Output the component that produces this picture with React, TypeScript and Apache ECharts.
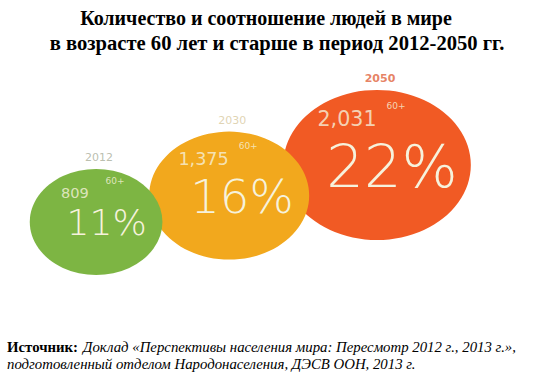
import React, { useEffect, useRef } from "react";
import * as echarts from "echarts";

const years = [2012, 2030, 2050];
const peopleMillions = [809, 1375, 2031];
const sharePercent = [11, 16, 22];
const ageGroup = "60+";
const numberLabels = ["809", "1,375", "2,031"];

const titleLines = [
  "Количество и соотношение людей в мире",
  "в возрасте 60 лет и старше в период 2012-2050 гг.",
];
const sourceBold = "Источник:";
const sourceLine1 = "Доклад «Перспективы населения мира: Пересмотр 2012 г., 2013 г.»,";
const sourceLine2 = "подготовленный отделом Народонаселения, ДЭСВ ООН, 2013 г.";

const bubbleColors = ["#7db543", "#f2a81d", "#f15a24"];
const yearColors = ["#a9ae9a", "#d8c9a0", "#e0623c"];
const textColor = "#f6f2dc";

const bw = (p: number) => 40 * Math.sqrt(p);
const bh = (p: number) => 32 * Math.sqrt(p);
const pctFont = (p: number) => 2.1 * p + 13;
const numFont = (p: number) => 0.11 * bw(p);

export default function App() {
  const ref = useRef<HTMLDivElement>(null);
  useEffect(() => {
    document.body.style.margin = "0";
    const chart = echarts.init(ref.current!, null, { renderer: "svg" });
    const order = [2, 1, 0];
    const base = (i: number) => [years[i], peopleMillions[i], sharePercent[i]];

    const labelSeries = (name: string, make: (i: number) => any) => ({
      type: "scatter",
      name,
      symbolSize: 1,
      itemStyle: { color: "transparent" },
      silent: true,
      z: 5,
      data: order.map((i) => ({
        value: base(i),
        label: { show: true, position: "inside", ...make(i) },
      })),
    });

    const font = "DejaVu Sans";
    const serif = "Liberation Serif";
    const pctDy = 1;

    chart.setOption({
      animation: false,
      title: [
        {
          text: titleLines[0],
          left: 261,
          top: 3,
          textAlign: "center",
          textStyle: { fontFamily: serif, fontWeight: "bold", fontSize: 20, color: "#000" },
        },
        {
          text: titleLines[1],
          left: 272,
          top: 27,
          textAlign: "center",
          textStyle: { fontFamily: serif, fontWeight: "bold", fontSize: 20.6, color: "#000" },
        },
        {
          text: `{b|${sourceBold}} {i|${sourceLine1}}\n{i|${sourceLine2}}`,
          left: 7,
          top: 338,
          padding: 0,
          textStyle: {
            fontWeight: "normal",
            rich: {
              b: { fontFamily: serif, fontWeight: "bold", fontStyle: "normal", fontSize: 14.8, lineHeight: 15, color: "#000" },
              i: { fontFamily: serif, fontWeight: "normal", fontStyle: "italic", fontSize: 14.8, lineHeight: 15, color: "#000" },
            },
          },
        },
      ],
      grid: { left: 0, right: 0, top: 0, bottom: 0 },
      xAxis: { type: "value", min: 1999, max: 2073.4, show: false },
      yAxis: { type: "value", min: -2557, max: 5569, show: false },
      series: [
        {
          type: "scatter",
          name: "bubbles",
          silent: true,
          z: 2,
          symbol: "circle",
          symbolSize: (v: number[]) => [bw(v[2]), bh(v[2])],
          data: order.map((i) => {
            const p = sharePercent[i];
            return {
              value: base(i),
              itemStyle: { color: bubbleColors[i], opacity: 1 },
              label: {
                show: true,
                position: "inside",
                formatter: `${p}%`,
                fontFamily: font,
                fontWeight: 200,
                fontSize: pctFont(p),
                lineHeight: Math.round(pctFont(p) * 0.78),
                color: textColor,
                offset: [0.08 * bw(p), pctDy],
              },
            };
          }),
        },
        labelSeries("numbers", (i) => {
          const p = sharePercent[i];
          return {
            formatter: numberLabels[i],
            fontFamily: font,
            fontWeight: "normal",
            fontSize: numFont(p),
            lineHeight: Math.round(numFont(p) * 0.85),
            color: textColor,
            offset: [-0.16 * bw(p), pctDy - (0.582 * (pctFont(p) + numFont(p)) + 0.6)],
          };
        }),
        labelSeries("age", (i) => ({
          formatter: ageGroup,
          fontFamily: font,
          fontSize: 9,
          lineHeight: 8,
          color: textColor,
          offset: [19, -0.39 * bh(sharePercent[i])],
        })),
        labelSeries("years", (i) => ({
          formatter: String(years[i]),
          fontFamily: font,
          fontWeight: i === 2 ? "bold" : "normal",
          fontSize: 11,
          lineHeight: 11,
          color: yearColors[i],
          offset: [3, -bh(sharePercent[i]) / 2 - 11.5],
        })),
      ],
    });
    return () => chart.dispose();
  }, []);
  return <div ref={ref} style={{ width: 550, height: 379 }} />;
}
